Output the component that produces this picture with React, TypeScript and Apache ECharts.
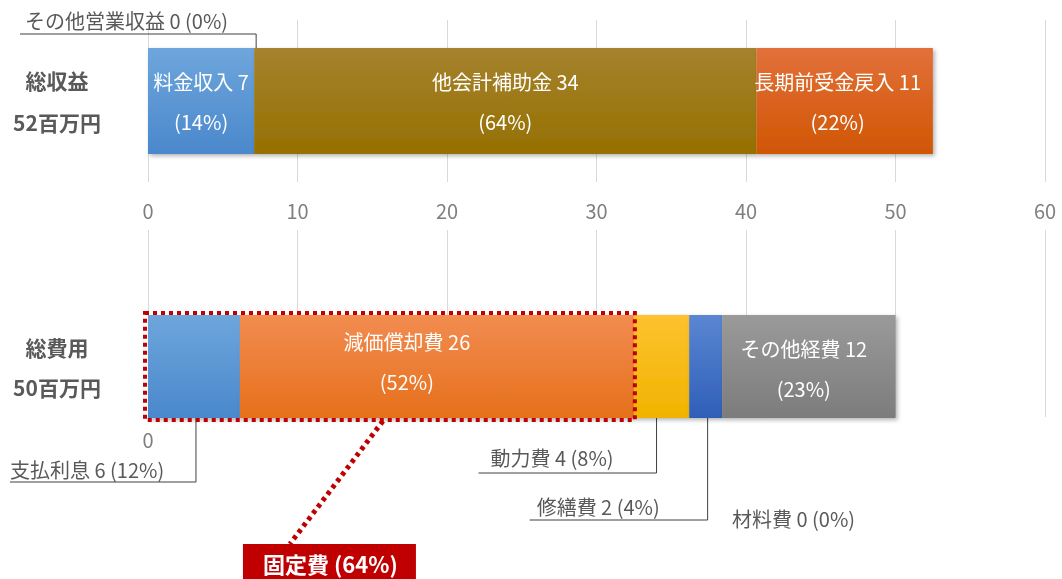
import React, { useEffect, useRef } from 'react';
import * as echarts from 'echarts';

const revenueNames = ['料金収入', 'その他営業収益', '他会計補助金', '長期前受金戻入'];
const revenueValues = [7.1, 0, 33.6, 11.8];
const revenueLabelValues = [7, 0, 34, 11];
const revenuePct = [14, 0, 64, 22];

const expenseNames = ['支払利息', '減価償却費', '動力費', '修繕費', '材料費', 'その他経費'];
const expenseValues = [6.15, 26.35, 3.7, 2.2, 0, 11.6];
const expenseLabelValues = [6, 26, 4, 2, 0, 12];
const expensePct = [12, 52, 8, 4, 0, 23];

const revenueCategory = ['総収益\n52百万円'];
const expenseCategory = ['総費用\n50百万円'];
const axisMin = 0;
const axisMax = 60;
const axisStep = 10;
const fixedCostLabel = '固定費 (64%)';
const fixedCostCount = 2; // first two expense items are fixed costs

const FONT = "'Noto Sans CJK JP', 'Noto Sans', sans-serif";

const revenueColors: [string, string][] = [
  ['#6ea6dc', '#4a88cc'],
  ['#a6a6a6', '#8c8c8c'],
  ['#a5822e', '#967000'],
  ['#e2703a', '#d05604'],
];
const expenseColors: [string, string][] = [
  ['#6ea6dc', '#4a88cc'],
  ['#f28c50', '#e6701c'],
  ['#fdc22e', '#f0b400'],
  ['#5a86d2', '#2f5fb8'],
  ['#a6a6a6', '#8c8c8c'],
  ['#9a9a9a', '#7c7c7c'],
];

const grad = (c: [string, string]) =>
  new echarts.graphic.LinearGradient(0, 0, 0, 1, [
    { offset: 0, color: c[0] },
    { offset: 1, color: c[1] },
  ]);

const insideOffsets: Record<string, number[]> = {
  長期前受金戻入: [-7, 0],
  減価償却費: [-30, -5],
  その他経費: [-5, 2],
};

export default function App() {
  const ref = useRef<HTMLDivElement>(null);
  useEffect(() => {
    if (!ref.current) return;
    const chart = echarts.init(ref.current, undefined, { renderer: 'svg' });

    const shadow = {
      shadowBlur: 4,
      shadowOffsetX: 2,
      shadowOffsetY: 2,
      shadowColor: 'rgba(0,0,0,0.3)',
    };

    const makeSeries = (
      names: string[],
      values: number[],
      labels: number[],
      pcts: number[],
      colors: [string, string][],
      axis: number,
      stack: string,
      width: number,
      insideSet: string[]
    ) =>
      names.map((n, i) => ({
        type: 'bar',
        name: n,
        stack,
        xAxisIndex: axis,
        yAxisIndex: axis,
        barWidth: width,
        data: [values[i]],
        itemStyle: { color: grad(colors[i]), ...shadow },
        label: {
          show: insideSet.includes(n),
          position: 'inside',
          color: '#ffffff',
          fontSize: 20,
          lineHeight: 40,
          fontFamily: FONT,
          offset: insideOffsets[n] || [0, 0],
          formatter: () => `${n} ${labels[i]}\n(${pcts[i]}%)`,
        },
      }));

    const axisLabelBase = {
      color: '#7f7f7f',
      fontSize: 20,
      margin: 18,
      fontFamily: FONT,
    };

    const catLabel = (lh: number) => ({
      align: 'center',
      margin: 91,
      fontSize: 21,
      fontWeight: 'bold',
      color: '#595959',
      lineHeight: lh,
      fontFamily: FONT,
    });

    const option: any = {
      animation: false,
      textStyle: { fontFamily: FONT },
      grid: [
        { left: 148, right: 17, top: 20, height: 162 },
        { left: 148, right: 17, top: 230, height: 187 },
        { left: 148, right: 17, top: 315, height: 103 },
      ],
      xAxis: [
        {
          gridIndex: 0,
          type: 'value',
          min: axisMin,
          max: axisMax,
          interval: axisStep,
          axisLine: { show: false },
          axisTick: { show: false },
          axisLabel: axisLabelBase,
          splitLine: { lineStyle: { color: '#d9d9d9', width: 1 } },
        },
        {
          gridIndex: 1,
          type: 'value',
          min: axisMin,
          max: axisMax,
          interval: axisStep,
          axisLine: { show: false },
          axisTick: { show: false },
          axisLabel: { ...axisLabelBase, margin: 12, formatter: (v: number) => (v === 0 ? '0' : '') },
          splitLine: { lineStyle: { color: '#d9d9d9', width: 1 } },
        },
        {
          gridIndex: 2,
          type: 'value',
          min: axisMin,
          max: axisMax,
          show: false,
          splitLine: { show: false },
        },
      ],
      yAxis: [
        {
          gridIndex: 0,
          type: 'category',
          data: revenueCategory,
          axisLine: { show: false },
          axisTick: { show: false },
          axisLabel: catLabel(42),
        },
        { gridIndex: 1, type: 'category', data: [''], show: false },
        {
          gridIndex: 2,
          type: 'category',
          data: expenseCategory,
          axisLine: { show: false },
          axisTick: { show: false },
          axisLabel: catLabel(40),
        },
      ],
      series: [
        ...makeSeries(revenueNames, revenueValues, revenueLabelValues, revenuePct, revenueColors, 0, 'rev', 106, [
          '料金収入',
          '他会計補助金',
          '長期前受金戻入',
        ]),
        { type: 'bar', xAxisIndex: 1, yAxisIndex: 1, data: [] },
        ...makeSeries(expenseNames, expenseValues, expenseLabelValues, expensePct, expenseColors, 2, 'exp', 103, [
          '減価償却費',
          'その他経費',
        ]),
      ],
    };

    chart.setOption(option);

    const px0 = (v: number) => chart.convertToPixel({ gridIndex: 0 }, [v, 0])[0];
    const px2 = (v: number) => chart.convertToPixel({ gridIndex: 2 }, [v, 0])[0];
    const topCy = chart.convertToPixel({ gridIndex: 0 }, [0, 0])[1];
    const botCy = chart.convertToPixel({ gridIndex: 2 }, [0, 0])[1];
    const botTop = botCy - 103 / 2;
    const botBottom = botCy + 103 / 2;

    const cum = (vals: number[], i: number) => vals.slice(0, i).reduce((a, b) => a + b, 0);
    const mid = (vals: number[], i: number) => cum(vals, i) + vals[i] / 2;

    const lineStyle = { stroke: '#404040', lineWidth: 1, fill: null };
    const textStyle = (t: string, x: number, y: number) => ({
      type: 'text',
      x,
      y,
      style: {
        text: t,
        fill: '#595959',
        fontSize: 20,
        fontFamily: FONT,
        verticalAlign: 'middle',
      },
    });
    const lbl = (arr: string[], vals: number[], pct: number[], i: number) => `${arr[i]} ${vals[i]} (${pct[i]}%)`;

    const aOther = px0(cum(revenueValues, 1)) + 2;
    const aInt = px2(mid(expenseValues, 0)) + 2;
    const aPow = px2(mid(expenseValues, 2)) - 5;
    const aRep = px2(mid(expenseValues, 3)) + 2;
    const fx0 = px2(0) - 3;
    const fx1 = px2(cum(expenseValues, fixedCostCount)) + 1;
    const fcx = (fx0 + fx1) / 2;

    const graphic: any[] = [
      textStyle(lbl(revenueNames, revenueLabelValues, revenuePct, 1), 25, 20),
      {
        type: 'polyline',
        shape: { points: [[20, 34], [aOther, 34], [aOther, topCy - 18]] },
        style: lineStyle,
      },
      textStyle(lbl(expenseNames, expenseLabelValues, expensePct, 0), 10, 469),
      {
        type: 'polyline',
        shape: { points: [[aInt, botCy + 8], [aInt, 482], [10, 482]] },
        style: lineStyle,
      },
      textStyle(lbl(expenseNames, expenseLabelValues, expensePct, 2), aPow - 166, 457),
      {
        type: 'polyline',
        shape: { points: [[aPow, botCy + 4], [aPow, 473], [aPow - 178, 473]] },
        style: lineStyle,
      },
      textStyle(lbl(expenseNames, expenseLabelValues, expensePct, 3), aRep - 171, 506),
      {
        type: 'polyline',
        shape: { points: [[aRep, botCy + 3], [aRep, 520], [aRep - 178, 520]] },
        style: lineStyle,
      },
      textStyle(lbl(expenseNames, expenseLabelValues, expensePct, 4), 732, 518),
      {
        type: 'rect',
        shape: { x: fx0, y: botTop - 2, width: fx1 - fx0, height: botBottom - botTop + 4 },
        style: { fill: null, stroke: '#c00000', lineWidth: 4, lineDash: [4, 4] },
        z: 100,
      },
      {
        type: 'line',
        shape: { x1: fcx - 7, y1: botBottom + 3, x2: fcx - 100, y2: 544 },
        style: { stroke: '#c00000', lineWidth: 5, lineDash: [4, 4] },
        z: 100,
      },
      {
        type: 'rect',
        shape: { x: fcx - 147, y: 544, width: 173, height: 40 },
        style: { fill: '#c00000' },
        z: 100,
      },
      {
        type: 'text',
        x: fcx - 59.5,
        y: 563,
        z: 101,
        style: {
          text: fixedCostLabel,
          fill: '#ffffff',
          fontSize: 22,
          fontWeight: 'bold',
          fontFamily: FONT,
          align: 'center',
          verticalAlign: 'middle',
        },
      },
    ];

    chart.setOption({ graphic });

    return () => chart.dispose();
  }, []);

  return (
    <div
      ref={ref}
      style={{ position: 'fixed', left: 0, top: 0, width: 1062, height: 579 }}
    />
  );
}
